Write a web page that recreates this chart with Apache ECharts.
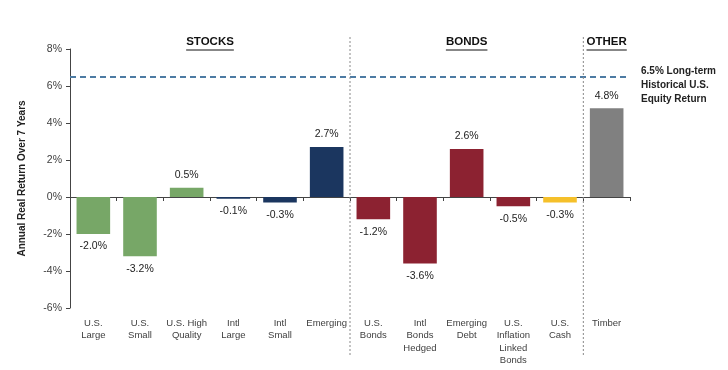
<!DOCTYPE html>
<html><head><meta charset="utf-8">
<script src="https://cdn.jsdelivr.net/npm/echarts@6/dist/echarts.min.js"></script>
<style>html,body{margin:0;padding:0;background:#fff}#c{width:728px;height:370px}</style>
</head><body><div id="c"></div>
<script>
const categories = ['U.S.\nLarge','U.S.\nSmall','U.S. High\nQuality','Intl\nLarge','Intl\nSmall','Emerging','U.S.\nBonds','Intl\nBonds\nHedged','Emerging\nDebt','U.S.\nInflation\nLinked\nBonds','U.S.\nCash','Timber'];
const values = [-2.0,-3.2,0.5,-0.1,-0.3,2.7,-1.2,-3.6,2.6,-0.5,-0.3,4.8];
const barColors = ['#77A767','#77A767','#77A767','#1B365F','#1B365F','#1B365F','#8C2231','#8C2231','#8C2231','#8C2231','#F5C02A','#808080'];
const yMin = -6, yMax = 8, yStep = 2;
const benchmark = 6.5;
const benchmarkLabel = '6.5% Long-term\nHistorical U.S.\nEquity Return';
const sectionNames = ['STOCKS','BONDS','OTHER'];
const sectionStarts = [0,6,11];
const sectionEnds = [6,11,12];

const FONT = 'Liberation Sans';
const chart = echarts.init(document.getElementById('c'), null, {renderer:'canvas'});
const option = {
  animation:false,
  textStyle:{fontFamily:FONT},
  grid:{left:70,right:98,top:49,bottom:62},
  xAxis:[{
    type:'category', data:categories, position:'bottom',
    axisLine:{onZero:true, lineStyle:{color:'#444',width:1}},
    axisTick:{show:true, interval:0, length:4, inside:false, lineStyle:{color:'#444'}},
    axisLabel:{show:false}, splitLine:{show:false}
  },{
    type:'category', data:categories, position:'bottom',
    axisLine:{show:false, onZero:false}, axisTick:{show:false},
    axisLabel:{interval:0, fontSize:9.5, color:'#404040', lineHeight:12.5, margin:9, fontFamily:FONT}
  }],
  yAxis:{
    type:'value', min:yMin, max:yMax, interval:yStep,
    name:'Annual Real Return Over 7 Years', nameLocation:'middle', nameGap:43,
    nameTextStyle:{fontSize:10, fontWeight:'bold', color:'#222', fontFamily:FONT},
    axisLine:{show:true, lineStyle:{color:'#444'}},
    axisTick:{show:true, length:4, lineStyle:{color:'#444'}},
    axisLabel:{formatter:v=>v+'%', fontSize:10.5, color:'#404040', margin:8},
    splitLine:{show:false}
  },
  series:[{
    type:'bar', xAxisIndex:0, barWidth:'72%',
    data: values.map((v,i)=>({value:v, itemStyle:{color:barColors[i]},
      label:{position: v>=0?'top':'bottom'}})),
    label:{show:true, formatter:p=>p.value.toFixed(1)+'%', fontSize:10.5, color:'#222', distance:7},
    markLine:{
      symbol:'none', silent:true,
      lineStyle:{type:[6,4], color:'#4D7BA3', width:2},
      label:{show:true, position:'end', formatter:benchmarkLabel, fontSize:10, fontWeight:'bold',
        color:'#222', lineHeight:14, distance:11, offset:[0,8], align:'left'},
      data:[{yAxis:benchmark}]
    }
  }]
};
chart.setOption(option);

// section dividers and headers, positioned through the category axis
const c0 = chart.convertToPixel({xAxisIndex:0}, 0);
const c1 = chart.convertToPixel({xAxisIndex:0}, 1);
const band = c1 - c0;
const edge = i => c0 - band/2 + i*band;
const HFONT = 'bold 11.5px ' + FONT;
const ctxTmp = document.createElement('canvas').getContext('2d');
ctxTmp.font = HFONT;
const gfx = [];
[6,11].forEach(i=>{
  gfx.push({type:'line', shape:{x1:edge(i),y1:37,x2:edge(i),y2:357}, style:{stroke:'#888', lineWidth:1, lineDash:[2,2]}, z:10});
});
sectionNames.forEach((n,k)=>{
  const cx = (edge(sectionStarts[k]) + edge(sectionEnds[k]))/2;
  gfx.push({type:'text', x:cx, y:42, style:{text:n, font:HFONT, fill:'#111', textAlign:'center', textVerticalAlign:'middle'}, z:10});
  const w = ctxTmp.measureText(n).width;
  gfx.push({type:'line', shape:{x1:cx-w/2,y1:50,x2:cx+w/2,y2:50}, style:{stroke:'#111', lineWidth:1}, z:10});
});
chart.setOption({graphic:gfx});
</script></body></html>
